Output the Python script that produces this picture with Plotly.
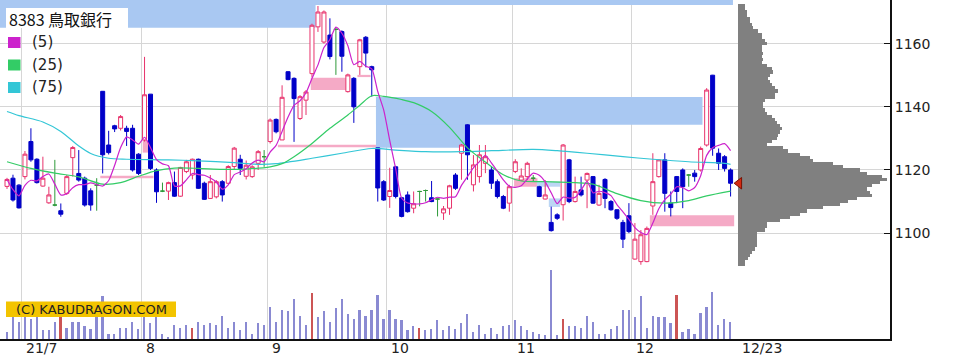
import plotly.graph_objects as go
import pandas as pd

# ---------------- data ----------------
opens = [1114.8,1117.4,1115.2,1117.9,1129.0,1123.4,1114.9,1109.6,1108.9,1107.1,
         1112.6,1123.9,1118.9,1117.4,1113.4,1115.2,1144.9,1127.9,1134.0,1133.2,
         1133.2,1133.2,1125.0,1129.5,1144.0,1120.0,1113.3,1113.3,1116.0,1111.7,
         1119.5,1118.4,1123.4,1115.8,1111.0,1111.5,1116.3,1115.8,1121.1,1123.4,
         1118.0,1117.9,1122.1,1124.2,1129.0,1136.0,1129.5,1151.1,1149.0,1136.3,
         1142.1,1150.5,1165.3,1160.5,1162.7,1164.5,1163.8,1144.8,1149.0,1152.7,
         1162.0,1152.7,1127.0,1116.3,1111.6,1121.0,1111.2,1112.1,1107.9,1113.2,
         1113.5,1111.2,1110.8,1106.4,1107.9,1118.4,1125.3,1134.3,1115.3,1117.9,
         1122.1,1120.0,1116.3,1111.6,1109.5,1119.5,1116.8,1117.9,1117.4,1114.7,
         1110.8,1103.4,1105.8,1109.0,1123.2,1110.0,1113.7,1116.8,1117.9,1108.9,
         1117.0,1110.0,1107.4,1103.4,1105.5,1091.8,1091.0,1091.0,1108.6,1117.9,
         1123.2,1109.5,1117.9,1120.0,1118.4,1119.0,1120.0,1127.9,1150.0,1125.3,
         1124.2,1120.0]
highs = [1117.5,1118.5,1115.5,1126.0,1133.2,1123.7,1124.2,1114.7,1123.2,1109.4,
         1118.4,1127.6,1126.3,1117.9,1114.2,1117.4,1145.0,1132.4,1134.3,1137.4,
         1134.0,1134.3,1125.3,1155.8,1144.0,1120.5,1116.0,1116.3,1119.5,1121.0,
         1123.2,1123.6,1123.6,1116.3,1118.4,1116.8,1116.8,1121.5,1127.3,1124.8,
         1123.0,1121.5,1126.3,1126.3,1136.3,1136.3,1146.8,1151.3,1149.3,1143.7,
         1145.3,1166.3,1171.9,1170.5,1168.0,1165.0,1164.2,1150.5,1149.4,1161.5,
         1162.4,1153.0,1127.0,1116.8,1120.7,1121.3,1111.5,1113.2,1113.2,1113.4,
         1113.8,1116.5,1111.0,1108.6,1115.3,1119.0,1128.2,1134.5,1124.7,1127.9,
         1127.9,1121.0,1117.0,1112.1,1115.3,1123.4,1120.5,1122.6,1118.4,1115.0,
         1116.8,1108.4,1106.3,1128.2,1123.5,1117.9,1117.9,1119.2,1118.1,1115.3,
         1117.4,1110.5,1107.6,1104.2,1109.5,1103.2,1101.0,1102.1,1125.3,1123.4,
         1125.3,1113.2,1118.1,1120.5,1118.7,1120.0,1127.4,1145.9,1150.1,1126.8,
         1124.7,1120.5]
lows = [1114.0,1110.0,1107.8,1117.0,1122.6,1115.7,1114.7,1109.3,1108.5,1105.2,
        1112.1,1117.9,1116.3,1108.4,1107.1,1107.1,1118.9,1124.9,1132.0,1132.5,
        1127.6,1119.5,1118.4,1129.0,1120.0,1109.6,1113.0,1110.5,1111.5,1111.5,
        1119.0,1117.0,1114.0,1110.5,1110.8,1111.0,1110.0,1115.5,1120.0,1118.4,
        1117.0,1117.5,1120.0,1121.0,1128.4,1131.6,1129.5,1148.4,1128.9,1135.8,
        1137.4,1149.3,1163.7,1160.0,1155.0,1150.1,1151.1,1144.5,1134.9,1150.1,
        1152.5,1143.2,1110.0,1110.2,1108.0,1111.0,1105.0,1106.5,1106.3,1108.5,
        1110.0,1109.8,1105.3,1104.2,1105.8,1113.7,1116.9,1116.9,1113.2,1116.0,
        1119.0,1114.0,1111.0,1107.6,1106.8,1119.0,1116.6,1116.8,1116.3,1111.4,
        1110.7,1100.5,1104.2,1104.0,1109.5,1109.7,1111.6,1107.9,1109.3,1108.6,
        1107.9,1107.1,1104.2,1095.3,1100.0,1091.6,1090.0,1090.8,1105.8,1117.6,
        1106.8,1105.3,1109.5,1107.9,1114.7,1116.3,1119.5,1127.4,1124.5,1120.0,
        1119.5,1111.6]
closes = [1117.0,1110.5,1108.0,1125.0,1123.2,1116.0,1117.4,1112.1,1108.9,1106.0,
          1117.9,1127.1,1116.8,1108.9,1108.9,1115.2,1124.8,1125.5,1133.0,1136.9,
          1132.2,1120.0,1118.9,1143.8,1120.5,1113.1,1113.3,1116.0,1111.7,1120.8,
          1122.6,1123.4,1114.2,1110.7,1116.3,1116.3,1112.1,1121.1,1126.9,1120.5,
          1121.5,1121.0,1125.8,1124.2,1135.8,1132.1,1143.0,1148.6,1142.6,1143.2,
          1144.7,1165.8,1170.0,1170.0,1155.9,1164.5,1156.0,1150.1,1140.0,1161.2,
          1157.0,1151.7,1114.3,1110.5,1113.5,1111.6,1105.3,1106.8,1109.3,1113.2,
          1113.5,1110.0,1110.8,1107.7,1115.0,1114.2,1127.9,1124.8,1121.6,1124.8,
          1124.2,1115.8,1111.6,1107.9,1114.7,1122.6,1118.1,1122.1,1117.4,1111.6,
          1112.1,1100.8,1104.7,1127.9,1110.0,1113.2,1112.1,1118.9,1109.5,1112.6,
          1111.0,1107.4,1104.7,1098.1,1100.5,1098.1,1099.5,1101.5,1116.3,1123.2,
          1112.6,1108.1,1113.2,1114.7,1118.4,1117.9,1126.8,1145.3,1126.9,1122.1,
          1120.5,1115.8]
volumes = [6.7,22.7,16.7,22,20,22,8.7,8.7,16.7,22,
           11,17.3,17.3,12.7,10,22.7,42.7,5.3,5.3,11,
           11,17.3,10,22,16,22,5.3,2,14.3,11,
           14.3,11,17.3,14.3,16,14.3,23.3,11,17.3,8.7,
           17.3,5.3,16,14.3,32,17.3,29.3,27.7,40,23.3,
           14.3,46,22,27.7,17.3,31,40,25,20,29.3,
           23.3,29.3,44.3,20.3,29.3,20,18.7,8.7,12.7,11,
           8.7,10,18.7,8.7,12.7,10,16,25,6.7,14.3,
           5.3,11,5.3,12.7,14.3,18.7,12.7,8.7,6.7,5.3,
           4,69.3,4,20,12.7,12.7,11,23.3,17.3,5.3,
           5.3,10,12.7,29.3,29.3,22,42.7,11,23.3,22,
           22,16,44.3,6.7,10,5.3,26,32,47,14.3,
           20,17.3]
volume_flag_idx = [9, 31, 51, 69, 93, 112]   # bars drawn in red

ma25_idx = [0,4,8,12,16,19,22,25,28,32,36,40,44,46,48,51,54,57,59,61,63,66,68,71,74,77,
            80,83,86,90,95,98,102,106,110,114,117,121]
ma25_val = [1122.6,1120.5,1119.0,1117.8,1115.5,1116.0,1118.0,1119.8,1120.6,1120.5,1120.2,
            1120.3,1121.0,1122.0,1124.2,1128.4,1133.2,1137.4,1140.5,1143.5,1143.3,1142.3,
            1141.3,1138.5,1133.5,1127.0,1122.5,1118.5,1116.5,1116.3,1116.0,1115.5,1112.5,
            1110.3,1109.5,1110.3,1111.8,1113.3]
ma75_idx = [0,2,6,9,12,14,17,20,27,32,38,42,45,51,56,61,65,70,76,81,88,92,97,103,108,114,
            120,121]
ma75_val = [1138.5,1137.2,1135.2,1132.2,1127.6,1125.2,1123.7,1123.4,1123.2,1122.9,1122.3,
            1121.8,1122.0,1123.7,1125.3,1126.8,1126.3,1125.8,1125.8,1126.1,1126.5,1126.1,
            1125.3,1124.2,1123.4,1122.6,1122.1,1121.8]

# price-by-volume profile (price level, volume)
profile_price = list(range(1172, 1089, -1))
profile_vol = [6.7,6.7,8.3,8.3,11.7,11.7,13.3,15,20,23.3,23.3,26.7,28.3,23.3,23.3,25,23.3,
               25,23.3,28.3,33.3,35,31.7,30,31.7,33.3,36.7,40,36.7,36.7,26.7,25,25,26.7,
               28.3,33.3,36.7,38.3,41.7,43.3,41.7,40,38.3,33.3,28.3,45,50,61.7,71.7,75,
               95,105,121.7,128.3,143.3,148.3,141.7,133.3,128.3,131.7,133.3,118.3,110,
               101.7,85,68.3,61.7,51.7,41.7,28.3,28.3,26.7,18.3,18.3,18.3,19,18.3,16.7,
               13.3,11.7,10,6.7,6.7]

# unfilled price gaps (start idx, end idx, low, high, kind)
gap_start = [-1.2, -1.2, 61.7, 61.7, 50.8, 58.6, 45.3, 15.6, 22.7, 84.8, 88.6, 90.6, 107.5]
gap_end   = [51.6, 121.4, 76.8, 116.3, 56.8, 60.8, 61.7, 24.5, 23.6, 88.7, 92.5, 92.5, 121.6]
gap_low   = [1165.0, 1172.2, 1127.0, 1134.3, 1145.3, 1149.4, 1127.2, 1117.4, 1125.5, 1114.7,
             1114.7, 1108.3, 1102.2]
gap_high  = [1174.5, 1174.5, 1143.1, 1143.1, 1149.2, 1150.1, 1128.0, 1118.2, 1129.5, 1117.4,
             1116.3, 1111.0, 1105.7]
gap_kind  = ["down", "down", "down", "down", "up", "up", "up", "up", "up", "up",
             "down2", "down2", "up"]

month_labels = ["21/7", "8", "9", "10", "11", "12"]
month_start_idx = [3, 23, 44, 64, 85, 105]
last_label = "12/23"
price_ticks = [1100, 1120, 1140, 1160]
title_text = "8383 鳥取銀行"
ma_labels = ["(5)", "(25)", "(75)"]

# ---------------- styling ----------------
UP = "#e8336c"
DOWN = "#0000c8"
DOJI = "#2e9a3a"
MA5C = "#cc22cc"
MA25C = "#33cc66"
MA75C = "#33c6d6"
GRID = "#d6d6d6"
band_colors = {"down": "#a9c8f2", "up": "#f5aac6", "down2": "#bcd6f4"}

W, H = 956, 362
ML, MR, MT, MB = 0, 66, 0, 23
PW, PH = W - ML - MR, H - MT - MB

n = len(opens)
idx = list(range(n))
ma5 = pd.Series(closes).rolling(5, min_periods=1).mean()

up_i = [i for i in idx if closes[i] > opens[i]]
dn_i = [i for i in idx if closes[i] < opens[i]]
dj_i = [i for i in idx if closes[i] == opens[i]]

fig = go.Figure()


def candle(sel, color, fill, name):
    fig.add_trace(go.Candlestick(
        x=[i for i in sel], open=[opens[i] for i in sel], high=[highs[i] for i in sel],
        low=[lows[i] for i in sel], close=[closes[i] for i in sel],
        increasing=dict(line=dict(color=color, width=1), fillcolor=fill),
        decreasing=dict(line=dict(color=color, width=1), fillcolor=fill),
        whiskerwidth=0, name=name, showlegend=False, hoverinfo="skip"))


candle(up_i, UP, "#ffffff", "up")
candle(dn_i, DOWN, DOWN, "down")
candle(dj_i, DOJI, DOJI, "doji")

fig.add_trace(go.Scatter(x=ma75_idx, y=ma75_val, mode="lines", line=dict(color=MA75C, width=1.2, shape="spline", smoothing=0.8), showlegend=False))
fig.add_trace(go.Scatter(x=ma25_idx, y=ma25_val, mode="lines", line=dict(color=MA25C, width=1.2, shape="spline", smoothing=0.8), showlegend=False))
fig.add_trace(go.Scatter(x=idx, y=ma5, mode="lines", line=dict(color=MA5C, width=1.2, shape="spline", smoothing=0.6), showlegend=False))

# volume
vcolors = ["#cc5555" if i in volume_flag_idx else "#8a8ad2" for i in idx]
fig.add_trace(go.Bar(x=idx, y=volumes, width=0.28, marker=dict(color=vcolors, line=dict(width=0)),
                     xaxis="x", yaxis="y2", showlegend=False, hoverinfo="skip"))

# price profile
fig.add_trace(go.Bar(x=profile_vol, y=profile_price, orientation="h", width=1.0,
                     marker=dict(color="#808080", line=dict(width=0)),
                     xaxis="x2", yaxis="y", showlegend=False, hoverinfo="skip"))
fig.add_trace(go.Scatter(x=[0.8], y=[closes[-1]], mode="markers", xaxis="x2", yaxis="y",
                         marker=dict(symbol="triangle-left", size=10, color="#d42a12",
                                     line=dict(color="#7a1000", width=1)), showlegend=False))

shapes = []
for s, e, lo, hi, k in zip(gap_start, gap_end, gap_low, gap_high, gap_kind):
    shapes.append(dict(type="rect", xref="x", yref="y", x0=s, x1=e, y0=lo, y1=hi,
                       fillcolor=band_colors[k], line=dict(width=0), layer="between"))


def px(xp):
    return xp / PW


def py(yp):
    return 1 - yp / PH


# title box
shapes.append(dict(type="rect", xref="paper", yref="paper", x0=px(6), x1=px(128), y0=py(28), y1=py(8),
                   fillcolor="white", line=dict(width=0), layer="above"))
for k, c in enumerate([MA5C, MA25C, MA75C]):
    y0 = 37 + k * 22.5
    shapes.append(dict(type="rect", xref="paper", yref="paper", x0=px(8), x1=px(20.5), y0=py(y0 + 11), y1=py(y0),
                       fillcolor=c, line=dict(width=0), layer="above"))
# copyright box
shapes.append(dict(type="rect", xref="paper", yref="paper", x0=px(6), x1=px(176), y0=py(317), y1=py(301.5),
                   fillcolor="#f3c400", line=dict(width=0), layer="above"))

ann = []
ann.append(dict(text=title_text, xref="paper", yref="paper", x=px(7), y=py(18.5), xanchor="left", yanchor="middle",
                showarrow=False, font=dict(family="Noto Sans CJK JP", size=16, color="#111")))
for k, t in enumerate(ma_labels):
    ann.append(dict(text=t, xref="paper", yref="paper", x=px(30), y=py(42.5 + k * 22.5), xanchor="left",
                    yanchor="middle", showarrow=False, font=dict(family="DejaVu Sans", size=15, color="#222")))
ann.append(dict(text="(C) KABUDRAGON.COM", xref="paper", yref="paper", x=px(91), y=py(309.5), xanchor="center",
                yanchor="middle", showarrow=False, font=dict(family="DejaVu Sans", size=13, color="#222")))
for lab, i0 in zip(month_labels, month_start_idx):
    ann.append(dict(text=lab, xref="x", yref="paper", x=i0 - 0.1, y=-9 / PH, xanchor="left", yanchor="middle",
                    showarrow=False, font=dict(family="DejaVu Sans", size=14, color="#222")))
ann.append(dict(text=last_label, xref="x", yref="paper", x=n - 1 + 1.5, y=-9 / PH, xanchor="left", yanchor="middle",
                showarrow=False, font=dict(family="DejaVu Sans", size=14, color="#222")))

px_per_idx = 5.98
x_left = -7 / px_per_idx
x_right = x_left + PW / px_per_idx
y_lo, y_hi = 1066.5, 1173.8
vol_max_px = 69.3
vol_range_top = max(volumes) * PH / vol_max_px
prof_base_px = 738.3
prof_span = PW - prof_base_px          # width of the profile area in px
prof_scale = 1.0                       # volume units per pixel

fig.update_layout(
    width=W, height=H, margin=dict(l=ML, r=MR, t=MT, b=MB),
    paper_bgcolor="white", plot_bgcolor="white",
    shapes=shapes, annotations=ann, showlegend=False,
    boxgap=0.33, boxgroupgap=0, bargap=0,
    xaxis=dict(range=[x_left, x_right], tickvals=[i - 0.5 for i in month_start_idx], showticklabels=False,
               ticks="", showgrid=True, gridcolor=GRID, gridwidth=1, zeroline=False,
               showline=True, linecolor="#111", linewidth=1.5, rangeslider=dict(visible=False), fixedrange=True),
    yaxis=dict(range=[y_lo, y_hi], side="right", tickvals=price_ticks, ticks="inside", ticklen=6,
               tickcolor="#111", showgrid=True, gridcolor=GRID, gridwidth=1, zeroline=False,
               showline=True, linecolor="#111", linewidth=2,
               tickfont=dict(family="DejaVu Sans", size=14, color="#222")),
    yaxis2=dict(overlaying="y", range=[0, vol_range_top], visible=False, showgrid=False),
    xaxis2=dict(overlaying="x", range=[-prof_base_px * prof_scale, prof_span * prof_scale],
                visible=False, showgrid=False),
)

fig.write_html("out.html")
